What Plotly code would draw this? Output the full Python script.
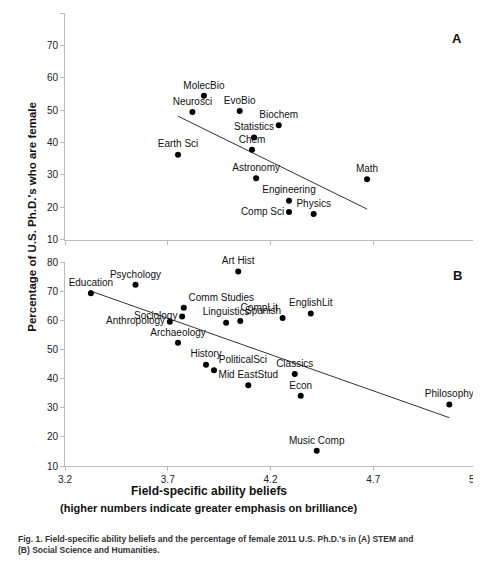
import plotly.graph_objects as go
from plotly.subplots import make_subplots

stem_fields = ["MolecBio", "Neurosci", "EvoBio", "Biochem", "Statistics", "Chem", "Earth Sci",
               "Astronomy", "Math", "Engineering", "Comp Sci", "Physics"]
stem_x = [3.876, 3.82, 4.05, 4.24, 4.12, 4.11, 3.75, 4.13, 4.67, 4.29, 4.29, 4.41]
stem_y = [54.4, 49.4, 49.7, 45.3, 41.5, 37.7, 36.2, 28.9, 28.6, 22.0, 18.5, 17.9]
stem_pos = ["top center", "top center", "top center", "top center", "top center", "top center",
            "top center", "top center", "top center", "top center", "middle left", "top center"]
stem_trend_x = [3.75, 4.67]
stem_trend_y = [48.1, 19.4]

hum_fields = ["Education", "Psychology", "Art Hist", "Comm Studies", "Sociology", "Anthropology",
              "Archaeology", "Linguistics", "Spanish", "CompLit", "EnglishLit", "History",
              "PoliticalSci", "Mid EastStud", "Classics", "Econ", "Philosophy", "Music Comp"]
hum_x = [3.326, 3.543, 4.043, 3.778, 3.77, 3.71, 3.75, 3.984, 4.053, 4.259, 4.396, 3.886,
         3.925, 4.092, 4.318, 4.347, 5.07, 4.425]
hum_y = [69.3, 72.2, 76.8, 64.3, 61.3, 59.5, 52.3, 59.2, 59.8, 60.8, 62.4, 44.8,
         42.9, 37.7, 41.6, 34.1, 31.1, 15.2]
hum_pos = ["top center", "top center", "top center", "top right", "middle left", "middle left",
           "top center", "top center", "top right", "top left", "top center", "top center",
           "top right", "top center", "top center", "top center", "top center", "top center"]
hum_trend_x = [3.32, 5.07]
hum_trend_y = [70.2, 26.6]

x_ticks = [3.2, 3.7, 4.2, 4.7, 5.2]
y_ticks = [10, 20, 30, 40, 50, 60, 70, 80]

fig = make_subplots(rows=2, cols=1, vertical_spacing=0.05)
font = dict(family="Liberation Sans, Arial, sans-serif", size=10, color="#111")

for r, (xs, ys, names, pos, tx, ty) in enumerate([
        (stem_x, stem_y, stem_fields, stem_pos, stem_trend_x, stem_trend_y),
        (hum_x, hum_y, hum_fields, hum_pos, hum_trend_x, hum_trend_y)], start=1):
    fig.add_trace(go.Scatter(x=tx, y=ty, mode="lines", line=dict(color="#333", width=1),
                             showlegend=False, hoverinfo="skip"), row=r, col=1)
    fig.add_trace(go.Scatter(x=xs, y=ys, mode="markers+text", text=names, textposition=pos,
                             marker=dict(color="black", size=6), textfont=font,
                             cliponaxis=False, showlegend=False), row=r, col=1)

axcommon = dict(showgrid=False, zeroline=False, showline=True, linecolor="#bbb",
                ticks="outside", tickcolor="#bbb", ticklen=4, tickfont=dict(size=10, color="#222"),
                mirror=False)
fig.update_xaxes(range=[3.2, 5.2], tickvals=x_ticks, **axcommon)
fig.update_xaxes(showticklabels=False, row=1, col=1)
fig.update_xaxes(ticktext=[f"{v:.1f}" for v in x_ticks], row=2, col=1)
fig.update_yaxes(range=[10, 80], tickvals=y_ticks, **axcommon)
fig.update_layout(
    width=481, height=570, plot_bgcolor="white", paper_bgcolor="white",
    margin=dict(l=57, r=13, t=0, b=112),
    font=dict(family="Liberation Sans, Arial, sans-serif"),
    xaxis=dict(domain=[0, 1]), yaxis=dict(domain=[0.5, 1]),
    xaxis2=dict(domain=[0, 1]), yaxis2=dict(domain=[0, 0.45]),
)
ann = [
    dict(text="<b>A</b>", x=0.97, y=0.965, xref="paper", yref="paper", showarrow=False,
         font=dict(size=13, color="#111")),
    dict(text="<b>B</b>", x=0.97, y=0.42, xref="paper", yref="paper", showarrow=False,
         font=dict(size=13, color="#111")),
    dict(text="<b>Percentage of U.S. Ph.D.'s who are female</b>", x=-0.1, y=0.55,
         xref="paper", yref="paper", textangle=-90, showarrow=False,
         font=dict(size=11.5, color="#111")),
    dict(text="<b>Field-specific ability beliefs</b>", x=0.35, y=-0.075, xref="paper",
         yref="paper", showarrow=False, font=dict(size=12, color="#111")),
    dict(text="<b>(higher numbers indicate greater emphasis on brilliance)</b>", x=0.35,
         y=-0.11, xref="paper", yref="paper", showarrow=False, font=dict(size=11, color="#111")),
    dict(text="<b>Fig. 1. Field-specific ability beliefs and the percentage of female 2011 U.S. Ph.D.'s in (A) STEM and<br>(B) Social Science and Humanities.</b>",
         x=-0.12, y=-0.145, xref="paper", yref="paper", xanchor="left", yanchor="top",
         align="left", showarrow=False, font=dict(size=8.5, color="#333")),
]
fig.update_layout(annotations=ann)
fig.write_html("out.html")
